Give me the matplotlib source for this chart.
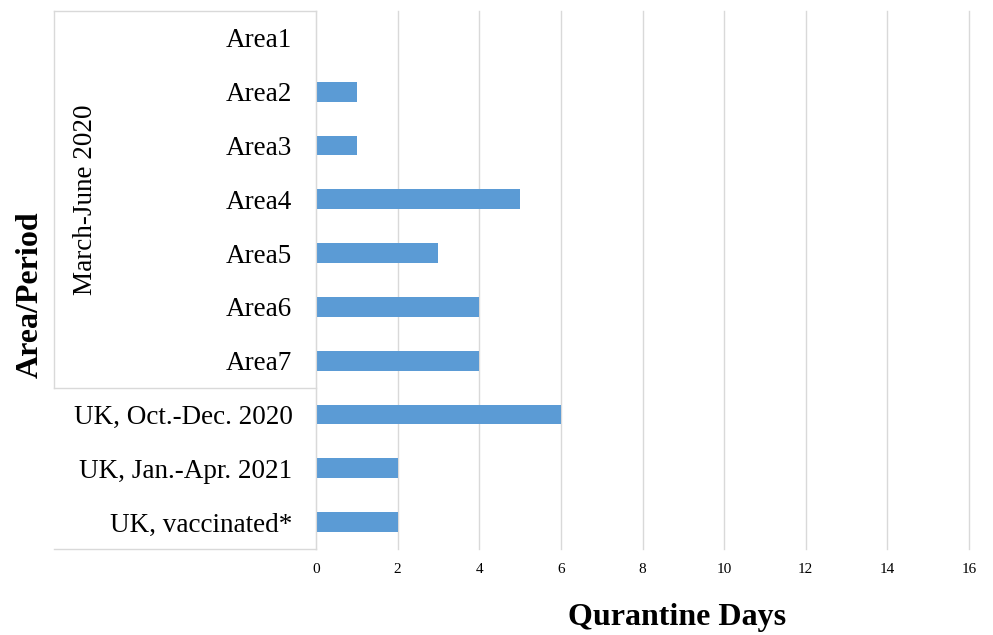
import matplotlib
matplotlib.use('Agg')
import matplotlib.pyplot as plt
import matplotlib.transforms as mtransforms

plt.rcParams['font.family'] = ['Liberation Serif', 'DejaVu Serif']

labels = ['Area1', 'Area2', 'Area3', 'Area4', 'Area5', 'Area6', 'Area7',
          'UK, Oct.-Dec. 2020', 'UK, Jan.-Apr. 2021', 'UK, vaccinated*']
days = [0, 1, 1, 5, 3, 4, 4, 6, 2, 2]
group_name = 'March-June 2020'
group_size = 7
xticks = [0, 2, 4, 6, 8, 10, 12, 14, 16]

W, H = 993, 635
fig = plt.figure(figsize=(W / 100, H / 100), dpi=100)
L, R, T, B = 316, 969, 11, 549
ax = fig.add_axes([L / W, 1 - B / H, (R - L) / W, (B - T) / H])

pos = list(range(len(labels)))
ax.barh(pos, days, height=0.37, color='#5b9bd5', zorder=3)
ax.set_ylim(len(labels) - 0.5, -0.5)
ax.set_xlim(0, 16)
ax.set_xticks(xticks)
ax.set_xticklabels([str(t) for t in xticks], fontsize=11)
ax.set_yticks(pos)
ax.set_yticklabels(labels, fontsize=19.5)
ax.tick_params(axis='y', length=0, pad=17)
ax.tick_params(axis='x', length=0, pad=10)
ax.grid(axis='x', color='#d9d9d9', linewidth=1, zorder=0)
for gl in ax.get_xgridlines():
    gl.set_clip_on(False)
for s in ['top', 'right', 'bottom']:
    ax.spines[s].set_visible(False)
ax.spines['left'].set_color('#d9d9d9')
ax.spines['left'].set_zorder(4)

# category box lines
tr = mtransforms.blended_transform_factory(ax.transAxes, ax.transData)
xl = (54 - L) / (R - L)
lc = '#d9d9d9'
for yb in [-0.5, group_size - 0.5, len(labels) - 0.5]:
    ax.plot([xl, 0], [yb, yb], color=lc, lw=1, transform=tr, clip_on=False)
ax.plot([xl, xl], [-0.5, group_size - 0.5], color=lc, lw=1, transform=tr, clip_on=False)

ax.text((85 - L) / (R - L), (group_size - 1) / 2, group_name, transform=tr,
        rotation=90, ha='center', va='center', fontsize=19.5)

fig.text(30 / W, 1 - 295 / H, 'Area/Period', rotation=90, ha='center', va='center',
         fontsize=23, fontweight='bold')
fig.text(677 / W, 1 - 617 / H, 'Qurantine Days', ha='center', va='center',
         fontsize=23, fontweight='bold')

fig.savefig('out.png', dpi=100)
